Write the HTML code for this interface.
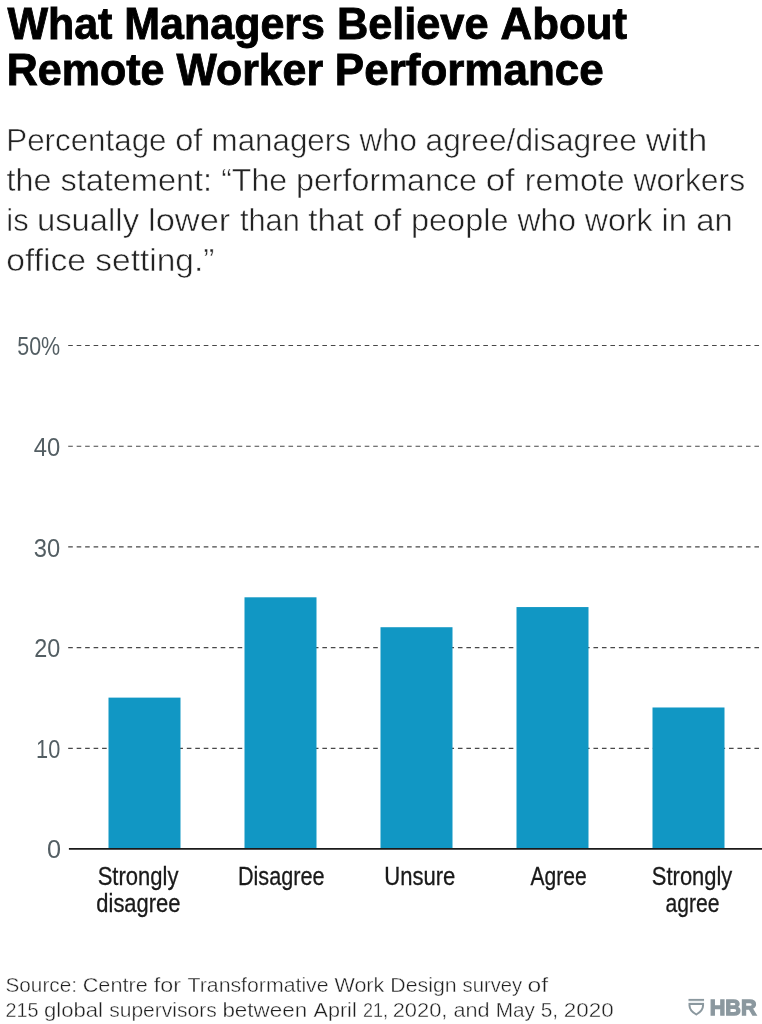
<!DOCTYPE html>
<html lang="en"><head><meta charset="utf-8"><title>What Managers Believe About Remote Worker Performance</title>
<style>html,body{margin:0;padding:0;background:#fff}body{width:762px;height:1024px;overflow:hidden}</style></head>
<body>
<svg width='762' height='1024' viewBox='0 0 762 1024' font-family="'Liberation Sans', Arial, Helvetica, sans-serif" style='display:block'>
<rect width='762' height='1024' fill='#ffffff'/>
<g stroke='#484848' stroke-width='1.15' stroke-dasharray='4.6 3.872'><line x1='68.2' x2='762' y1='748.38' y2='748.38'/><line x1='68.2' x2='762' y1='647.66' y2='647.66'/><line x1='68.2' x2='762' y1='546.94' y2='546.94'/><line x1='68.2' x2='762' y1='446.22' y2='446.22'/><line x1='68.2' x2='762' y1='345.50' y2='345.50'/></g>
<g fill='#1197c4'><rect x='108.5' y='697.62' width='72' height='151.18'/><rect x='244.5' y='597.30' width='72' height='251.50'/><rect x='380.5' y='627.22' width='72' height='221.58'/><rect x='516.5' y='607.07' width='72' height='241.73'/><rect x='652.5' y='707.49' width='72' height='141.31'/></g>
<line x1='68.9' x2='762' y1='848.95' y2='848.95' stroke='#1a1a1a' stroke-width='1.8'/>
<g fill='none' stroke='#8b989f' stroke-width='2'>
<line x1='688.5' x2='704.05' y1='999.9' y2='999.9'/><rect x='688.5' y='1000.9' width='15.55' height='2.1' fill='#eef1f3' stroke='none'/>
<path d='M689.5 1004 H703.05 V1005.5 C703.05 1009.2 700.2 1012.3 696.28 1014.5 C692.35 1012.3 689.5 1009.2 689.5 1005.5 Z'/>
</g>
<text y='39.05' font-size='45.2' font-weight='bold' fill='#000000' stroke='#000000' stroke-width='0.9' xml:space='preserve'><tspan x='7.38' textLength='116.95' lengthAdjust='spacingAndGlyphs'>What </tspan><tspan x='124.32' textLength='212.60' lengthAdjust='spacingAndGlyphs'>Managers </tspan><tspan x='336.91' textLength='163.62' lengthAdjust='spacingAndGlyphs'>Believe </tspan><tspan x='500.52' textLength='126.48' lengthAdjust='spacingAndGlyphs'>About</tspan></text>
<text y='85.45' font-size='45.2' font-weight='bold' fill='#000000' stroke='#000000' stroke-width='0.9' xml:space='preserve'><tspan x='6.82' textLength='169.65' lengthAdjust='spacingAndGlyphs'>Remote </tspan><tspan x='176.47' textLength='158.46' lengthAdjust='spacingAndGlyphs'>Worker </tspan><tspan x='334.87' textLength='268.84' lengthAdjust='spacingAndGlyphs'>Performance</tspan></text>
<text y='151.30' font-size='32' font-weight='normal' fill='#222222' stroke='#ffffff' stroke-width='0.55' xml:space='preserve'><tspan x='6.26' textLength='168.97' lengthAdjust='spacingAndGlyphs'>Percentage </tspan><tspan x='175.17' textLength='36.28' lengthAdjust='spacingAndGlyphs'>of </tspan><tspan x='211.55' textLength='147.96' lengthAdjust='spacingAndGlyphs'>managers </tspan><tspan x='359.51' textLength='66.08' lengthAdjust='spacingAndGlyphs'>who </tspan><tspan x='425.57' textLength='220.24' lengthAdjust='spacingAndGlyphs'>agree/disagree </tspan><tspan x='645.76' textLength='61.65' lengthAdjust='spacingAndGlyphs'>with</tspan></text>
<text y='191.40' font-size='32' font-weight='normal' fill='#222222' stroke='#ffffff' stroke-width='0.55' xml:space='preserve'><tspan x='6.54' textLength='53.90' lengthAdjust='spacingAndGlyphs'>the </tspan><tspan x='60.43' textLength='160.75' lengthAdjust='spacingAndGlyphs'>statement: </tspan><tspan x='221.20' textLength='74.85' lengthAdjust='spacingAndGlyphs'>“The </tspan><tspan x='296.04' textLength='189.75' lengthAdjust='spacingAndGlyphs'>performance </tspan><tspan x='485.66' textLength='38.91' lengthAdjust='spacingAndGlyphs'>of </tspan><tspan x='524.79' textLength='108.70' lengthAdjust='spacingAndGlyphs'>remote </tspan><tspan x='633.50' textLength='111.61' lengthAdjust='spacingAndGlyphs'>workers</tspan></text>
<text y='231.40' font-size='32' font-weight='normal' fill='#222222' stroke='#ffffff' stroke-width='0.55' xml:space='preserve'><tspan x='6.29' textLength='30.84' lengthAdjust='spacingAndGlyphs'>is </tspan><tspan x='37.00' textLength='111.14' lengthAdjust='spacingAndGlyphs'>usually </tspan><tspan x='148.01' textLength='91.88' lengthAdjust='spacingAndGlyphs'>lower </tspan><tspan x='239.98' textLength='68.30' lengthAdjust='spacingAndGlyphs'>than </tspan><tspan x='308.22' textLength='64.92' lengthAdjust='spacingAndGlyphs'>that </tspan><tspan x='373.11' textLength='37.80' lengthAdjust='spacingAndGlyphs'>of </tspan><tspan x='411.02' textLength='106.47' lengthAdjust='spacingAndGlyphs'>people </tspan><tspan x='517.50' textLength='67.30' lengthAdjust='spacingAndGlyphs'>who </tspan><tspan x='584.80' textLength='76.69' lengthAdjust='spacingAndGlyphs'>work </tspan><tspan x='661.43' textLength='34.77' lengthAdjust='spacingAndGlyphs'>in </tspan><tspan x='696.20' textLength='36.61' lengthAdjust='spacingAndGlyphs'>an</tspan></text>
<text y='271.30' font-size='32' font-weight='normal' fill='#222222' stroke='#ffffff' stroke-width='0.55' xml:space='preserve'><tspan x='6.32' textLength='89.06' lengthAdjust='spacingAndGlyphs'>office </tspan><tspan x='95.39' textLength='119.00' lengthAdjust='spacingAndGlyphs'>setting.”</tspan></text>
<text transform='translate(17.26 355.30) scale(0.8386 1)' font-size='25.6' font-weight='normal' fill='#535e63' >50%</text>
<text transform='translate(33.84 456.20) scale(0.9296 1)' font-size='25.6' font-weight='normal' fill='#535e63' >40</text>
<text transform='translate(33.87 556.90) scale(0.9283 1)' font-size='25.6' font-weight='normal' fill='#535e63' >30</text>
<text transform='translate(34.26 657.00) scale(0.9143 1)' font-size='25.6' font-weight='normal' fill='#535e63' >20</text>
<text transform='translate(36.10 757.80) scale(0.8510 1)' font-size='25.6' font-weight='normal' fill='#535e63' >10</text>
<text transform='translate(47.11 857.80) scale(0.9878 1)' font-size='25.6' font-weight='normal' fill='#535e63' >0</text>
<text transform='translate(97.65 885.05) scale(0.8476 1)' font-size='26' font-weight='normal' fill='#1a1a1a' stroke='#1a1a1a' stroke-width='0.3'>Strongly</text>
<text transform='translate(96.36 912.15) scale(0.8430 1)' font-size='26' font-weight='normal' fill='#1a1a1a' stroke='#1a1a1a' stroke-width='0.3'>disagree</text>
<text transform='translate(237.94 885.05) scale(0.8317 1)' font-size='26' font-weight='normal' fill='#1a1a1a' stroke='#1a1a1a' stroke-width='0.3'>Disagree</text>
<text transform='translate(384.22 885.05) scale(0.8481 1)' font-size='26' font-weight='normal' fill='#1a1a1a' stroke='#1a1a1a' stroke-width='0.3'>Unsure</text>
<text transform='translate(530.60 885.05) scale(0.8088 1)' font-size='26' font-weight='normal' fill='#1a1a1a' stroke='#1a1a1a' stroke-width='0.3'>Agree</text>
<text transform='translate(651.86 885.05) scale(0.8434 1)' font-size='26' font-weight='normal' fill='#1a1a1a' stroke='#1a1a1a' stroke-width='0.3'>Strongly</text>
<text transform='translate(665.59 912.15) scale(0.8109 1)' font-size='26' font-weight='normal' fill='#1a1a1a' stroke='#1a1a1a' stroke-width='0.3'>agree</text>
<text y='991.80' font-size='21' font-weight='normal' fill='#202020' stroke='#ffffff' stroke-width='0.4' xml:space='preserve'><tspan x='5.46' textLength='77.30' lengthAdjust='spacingAndGlyphs'>Source: </tspan><tspan x='82.71' textLength='71.07' lengthAdjust='spacingAndGlyphs'>Centre </tspan><tspan x='153.74' textLength='33.72' lengthAdjust='spacingAndGlyphs'>for </tspan><tspan x='187.54' textLength='146.95' lengthAdjust='spacingAndGlyphs'>Transformative </tspan><tspan x='334.49' textLength='55.76' lengthAdjust='spacingAndGlyphs'>Work </tspan><tspan x='390.27' textLength='72.27' lengthAdjust='spacingAndGlyphs'>Design </tspan><tspan x='462.58' textLength='65.16' lengthAdjust='spacingAndGlyphs'>survey </tspan><tspan x='527.52' textLength='20.59' lengthAdjust='spacingAndGlyphs'>of</tspan></text>
<text y='1016.70' font-size='21' font-weight='normal' fill='#202020' stroke='#ffffff' stroke-width='0.4' xml:space='preserve'><tspan x='5.52' textLength='38.54' lengthAdjust='spacingAndGlyphs'>215 </tspan><tspan x='43.95' textLength='65.26' lengthAdjust='spacingAndGlyphs'>global </tspan><tspan x='109.25' textLength='113.25' lengthAdjust='spacingAndGlyphs'>supervisors </tspan><tspan x='222.40' textLength='91.07' lengthAdjust='spacingAndGlyphs'>between </tspan><tspan x='313.49' textLength='49.23' lengthAdjust='spacingAndGlyphs'>April </tspan><tspan x='362.93' textLength='30.00' lengthAdjust='spacingAndGlyphs'>21, </tspan><tspan x='392.70' textLength='60.76' lengthAdjust='spacingAndGlyphs'>2020, </tspan><tspan x='453.47' textLength='42.17' lengthAdjust='spacingAndGlyphs'>and </tspan><tspan x='495.72' textLength='45.04' lengthAdjust='spacingAndGlyphs'>May </tspan><tspan x='540.76' textLength='23.20' lengthAdjust='spacingAndGlyphs'>5, </tspan><tspan x='563.87' textLength='49.76' lengthAdjust='spacingAndGlyphs'>2020</tspan></text>
<text transform='translate(709.68 1014.55) scale(0.9571 1)' font-size='22.7' font-weight='bold' fill='#8b989f' stroke='#8b989f' stroke-width='1.3'>HBR</text>
</svg>
</body></html>
